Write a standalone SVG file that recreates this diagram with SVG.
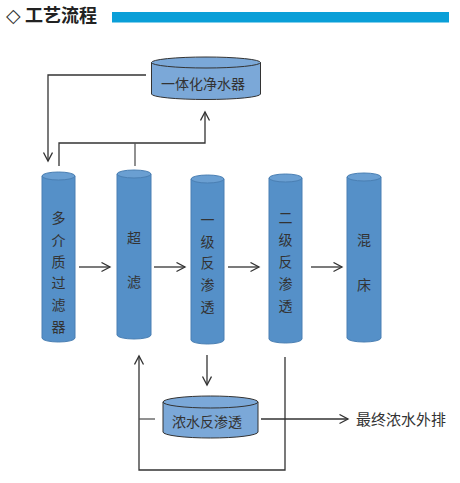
<svg xmlns="http://www.w3.org/2000/svg" width="460" height="483" viewBox="0 0 460 483">
<defs>
<marker id="ah" markerUnits="userSpaceOnUse" markerWidth="12" markerHeight="12" refX="9" refY="5" orient="auto">
<path d="M0.5,0.5 L9,5 L0.5,9.5" fill="none" stroke="#333" stroke-width="1.3"/>
</marker>
<style>
.col{fill:#5590c8;stroke:#4a7fb3;stroke-width:1}
.colTop{fill:#6a9fd2;stroke:#4a7fb3;stroke-width:1}
.tank{fill:#7ba8d8;stroke:#333;stroke-width:1}
.ln{fill:none;stroke:#555;stroke-width:1.3}
.arr{fill:none;stroke:#333;stroke-width:1.3;marker-end:url(#ah)}
.t{font-family:"Noto Sans CJK SC","Liberation Sans",sans-serif;font-size:14px;fill:#333;text-anchor:middle}
.tl{font-family:"Noto Sans CJK SC","Liberation Sans",sans-serif;font-size:15px;fill:#333}
</style>
</defs>
<g id="header">
<text x="6" y="22" font-family="DejaVu Sans,sans-serif" font-size="19" fill="#333">◇</text>
<text x="25" y="22" font-family="Noto Sans CJK SC,sans-serif" font-size="18" font-weight="bold" fill="#222">工艺流程</text>
<rect x="112" y="12" width="337" height="10.5" fill="#0a9fd8"/>
</g>
<g id="connectors">
<polyline class="arr" points="146,75 48,75 48,161"/>
<polyline class="arr" points="59,166 59,143 205,143 205,112"/>
<line class="ln" x1="135" y1="143" x2="135" y2="166"/>
<line class="arr" x1="79" y1="267" x2="110" y2="267"/>
<line class="arr" x1="154" y1="267" x2="185" y2="267"/>
<line class="arr" x1="228" y1="267" x2="259" y2="267"/>
<line class="arr" x1="311" y1="267" x2="342" y2="267"/>
<line class="arr" x1="207" y1="355" x2="207" y2="385"/>
<polyline class="arr" points="285,357 285,470 139,470 139,356"/>
<line class="ln" x1="139" y1="419" x2="155" y2="419"/>
<line class="arr" x1="261" y1="419" x2="348" y2="419"/>
</g>
<g id="tank-top">
<path class="tank" d="M151.5,62.5 L151.5,94 A54.5,5.5 0 0 0 260.5,94 L260.5,62.5 Z"/>
<ellipse class="tank" cx="206" cy="62.5" rx="54.5" ry="5.5"/>
<text class="t" x="203" y="89">一体化净水器</text>
</g>
<g id="col1">
<path class="col" d="M42,176 L42,338 A16.5,4 0 0 0 75,338 L75,176 Z"/>
<ellipse class="colTop" cx="58.5" cy="176" rx="16.5" ry="4"/>
<text class="t" x="58.5" y="223">多</text>
<text class="t" x="58.5" y="246">介</text>
<text class="t" x="58.5" y="267">质</text>
<text class="t" x="58.5" y="288">过</text>
<text class="t" x="58.5" y="310">滤</text>
<text class="t" x="58.5" y="332">器</text>
</g>
<g id="col2">
<path class="col" d="M117,174 L117,335 A17,4 0 0 0 151,335 L151,174 Z"/>
<ellipse class="colTop" cx="134" cy="174" rx="17" ry="4"/>
<text class="t" x="134" y="243">超</text>
<text class="t" x="134" y="287">滤</text>
</g>
<g id="col3">
<path class="col" d="M191,179 L191,340 A16.5,4 0 0 0 224,340 L224,179 Z"/>
<ellipse class="colTop" cx="207.5" cy="179" rx="16.5" ry="4"/>
<text class="t" x="207.5" y="225">一</text>
<text class="t" x="207.5" y="247">级</text>
<text class="t" x="207.5" y="268">反</text>
<text class="t" x="207.5" y="290">渗</text>
<text class="t" x="207.5" y="312">透</text>
</g>
<g id="col4">
<path class="col" d="M269,178 L269,339 A16.5,4 0 0 0 302,339 L302,178 Z"/>
<ellipse class="colTop" cx="285.5" cy="178" rx="16.5" ry="4"/>
<text class="t" x="285.5" y="223">二</text>
<text class="t" x="285.5" y="245">级</text>
<text class="t" x="285.5" y="267">反</text>
<text class="t" x="285.5" y="289">渗</text>
<text class="t" x="285.5" y="311">透</text>
</g>
<g id="col5">
<path class="col" d="M347,177 L347,338 A17,4 0 0 0 381,338 L381,177 Z"/>
<ellipse class="colTop" cx="364" cy="177" rx="17" ry="4"/>
<text class="t" x="364" y="245">混</text>
<text class="t" x="364" y="290">床</text>
</g>
<g id="tank-bottom">
<path class="tank" d="M163,402 L163,432 A47.5,6 0 0 0 258,432 L258,402 Z"/>
<ellipse class="tank" cx="210.5" cy="402" rx="47.5" ry="6"/>
<text class="t" x="207" y="427">浓水反渗透</text>
</g>
<g id="label-out">
<text class="tl" x="356" y="425">最终浓水外排</text>
</g>
</svg>
